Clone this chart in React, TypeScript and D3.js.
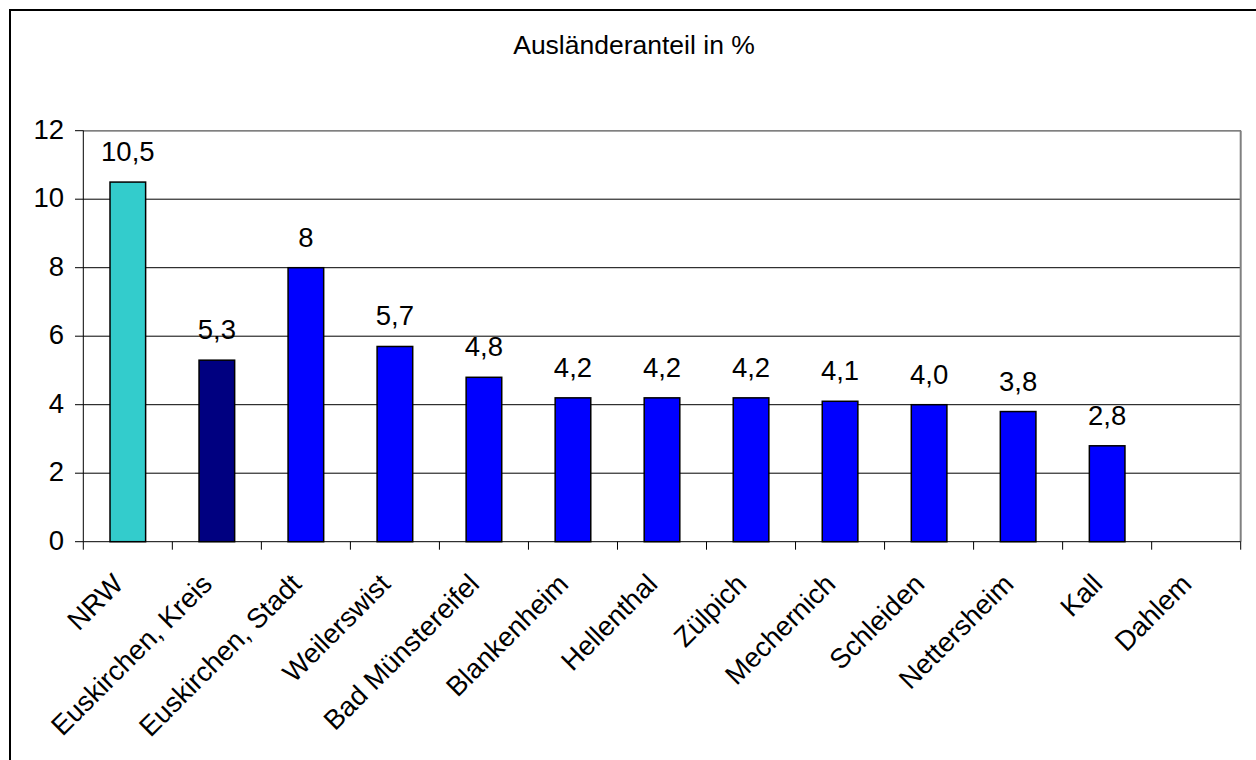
import React from "react";
import * as d3 from "d3";

const categories = [
  "NRW",
  "Euskirchen, Kreis",
  "Euskirchen, Stadt",
  "Weilerswist",
  "Bad Münstereifel",
  "Blankenheim",
  "Hellenthal",
  "Zülpich",
  "Mechernich",
  "Schleiden",
  "Nettersheim",
  "Kall",
  "Dahlem",
];
const values: (number | null)[] = [10.5, 5.3, 8, 5.7, 4.8, 4.2, 4.2, 4.2, 4.1, 4.0, 3.8, 2.8, null];
const valueLabels = ["10,5", "5,3", "8", "5,7", "4,8", "4,2", "4,2", "4,2", "4,1", "4,0", "3,8", "2,8", ""];
const barColors = ["#33CCCC", "#000080", "#0000FF", "#0000FF", "#0000FF", "#0000FF", "#0000FF", "#0000FF", "#0000FF", "#0000FF", "#0000FF", "#0000FF", "#0000FF"];
const yTicks = [0, 2, 4, 6, 8, 10, 12];
const title = "Ausländeranteil in %";

const W = 1256;
const H = 760;
const plot = { left: 83.3, right: 1240.7, top: 130.7, bottom: 541.7 };
const FONT = "'Liberation Sans', Arial, Helvetica, sans-serif";
const FS = 27.5;

export default function App() {
  const x = d3
    .scaleBand<string>()
    .domain(categories)
    .range([plot.left, plot.right])
    .paddingInner(0)
    .paddingOuter(0);
  const y = d3.scaleLinear().domain([0, 12]).range([plot.bottom, plot.top]);
  const bw = x.bandwidth() / 2.5;
  const boundaries = d3.range(categories.length + 1).map((i) => plot.left + i * x.step());

  return (
    <svg
      width={W}
      height={H}
      style={{ position: "absolute", left: 0, top: 0, background: "#fff" }}
      fontFamily={FONT}
    >
      <rect x={0} y={0} width={W} height={H} fill="#fff" />
      {/* outer frame */}
      <rect x={10} y={10} width={W + 20} height={H + 20} fill="none" stroke="#000" strokeWidth={2} />
      {/* title */}
      <text x={634} y={54} textAnchor="middle" fontSize={26.5} fill="#000">
        {title}
      </text>
      {/* gridlines */}
      {yTicks.slice(1).map((t) => (
        <line key={t} x1={plot.left} x2={plot.right} y1={y(t)} y2={y(t)} stroke="#000" strokeWidth={1} />
      ))}
      {/* plot border right */}
      <line x1={plot.right} x2={plot.right} y1={plot.top} y2={plot.bottom} stroke="#808080" strokeWidth={2} />
      <line x1={plot.left} x2={plot.right} y1={plot.top} y2={plot.top} stroke="#808080" strokeWidth={1.5} />
      {/* bars */}
      {categories.map((c, i) => {
        const v = values[i];
        if (v == null) return null;
        const cx = (x(c) as number) + x.bandwidth() / 2;
        return (
          <rect
            key={c}
            x={cx - bw / 2}
            y={y(v)}
            width={bw}
            height={y(0) - y(v)}
            fill={barColors[i]}
            stroke="#000"
            strokeWidth={1.5}
          />
        );
      })}
      {/* value labels */}
      {categories.map((c, i) => {
        const v = values[i];
        if (v == null) return null;
        const cx = (x(c) as number) + x.bandwidth() / 2;
        return (
          <text key={c} x={cx} y={y(v) - 21} textAnchor="middle" fontSize={FS} fill="#000">
            {valueLabels[i]}
          </text>
        );
      })}
      {/* y axis */}
      <line x1={plot.left} x2={plot.left} y1={plot.top} y2={plot.bottom} stroke="#000" strokeWidth={1} />
      {yTicks.map((t) => (
        <g key={t}>
          <line x1={75} x2={plot.left} y1={y(t)} y2={y(t)} stroke="#000" strokeWidth={1} />
          <text x={64} y={y(t) + 7.8} textAnchor="end" fontSize={FS} fill="#000">
            {t}
          </text>
        </g>
      ))}
      {/* x axis */}
      <line x1={plot.left} x2={plot.right} y1={plot.bottom} y2={plot.bottom} stroke="#000" strokeWidth={1} />
      {boundaries.map((b, i) => (
        <line key={i} x1={b} x2={b} y1={plot.bottom} y2={plot.bottom + 8} stroke="#000" strokeWidth={1} />
      ))}
      {categories.map((c) => {
        const cx = (x(c) as number) + x.bandwidth() / 2 - 3;
        const ty = plot.bottom + 44;
        return (
          <text
            key={c}
            x={cx}
            y={ty}
            textAnchor="end"
            fontSize={FS}
            fill="#000"
            transform={`rotate(-45 ${cx} ${ty})`}
          >
            {c}
          </text>
        );
      })}
    </svg>
  );
}
